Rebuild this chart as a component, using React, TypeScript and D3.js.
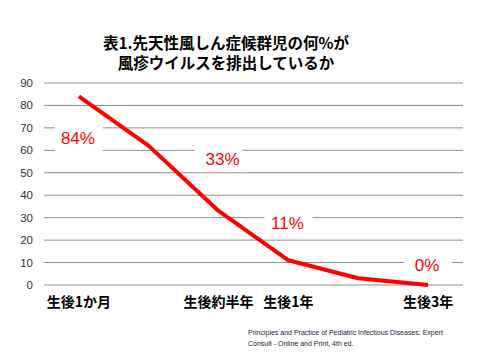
import React from "react";
import * as d3 from "d3";

const categories = ["生後1か月", "", "生後約半年", "生後1年", "", "生後3年"];
const values = [84, 62, 33, 11, 3, 0];
const yTicks = [0, 10, 20, 30, 40, 50, 60, 70, 80, 90];
const dataLabels = ["84%", "", "33%", "11%", "", "0%"];
const labelYValues = [65.5, 0, 56.1, 27.6, 0, 8.9];
const titleLines = ["表1.先天性風しん症候群児の何%が", "風疹ウイルスを排出しているか"];
const sourceLines = [
  "Principles and Practice of Pediatric Infectious Diseases: Expert",
  "Consult - Online and Print, 4th ed.",
];

export default function App() {
  const W = 480, H = 360;
  const left = 44, right = 463, top = 83, bottom = 285;
  const x = d3.scaleBand<number>().domain(d3.range(categories.length)).range([left, right]);
  const y = d3.scaleLinear().domain([0, 90]).range([bottom, top]);
  const cx = (i: number) => (x(i) as number) + x.bandwidth() / 2;
  const line = d3.line<number>().x((_, i) => cx(i)).y((d) => y(d));

  return (
    <svg width={W} height={H} style={{ position: "absolute", left: 0, top: 0, background: "#fff" }}>
      <rect width={W} height={H} fill="#fff" />
      {titleLines.map((t, i) => (
        <text key={i} x={226} y={49 + i * 20} textAnchor="middle" fontSize={15.5} fontWeight="bold"
          fontFamily="'Noto Sans CJK JP', sans-serif" fill="#000">{t}</text>
      ))}
      {yTicks.map((t) => (
        <g key={t}>
          <line x1={left} x2={right} y1={y(t)} y2={y(t)} stroke="#8c8c8c" strokeWidth={1} />
          <text x={33} y={y(t)} dy="0.35em" textAnchor="end" fontSize={11.5}
            fontFamily="'Liberation Sans', Arial, sans-serif" fill="#333">{t}</text>
        </g>
      ))}
      <path d={line(values) || ""} fill="none" stroke="#ff0000" strokeWidth={4} strokeLinejoin="round" />
      {dataLabels.map((l, i) =>
        l ? (
          <g key={i}>
            <rect x={cx(i) - 24} y={y(labelYValues[i]) - 13} width={48} height={26} fill="#fff" />
            <text x={cx(i) - 1 + (i === 2 ? 5 : 0)} y={y(labelYValues[i])} dy="0.36em" textAnchor="middle"
              fontSize={17} fontFamily="'Liberation Sans', Arial, sans-serif" fill="#ff0000">{l}</text>
          </g>
        ) : null
      )}
      {categories.map((c, i) =>
        c ? (
          <text key={i} x={cx(i)} y={307} textAnchor="middle" fontSize={14} fontWeight="bold"
            fontFamily="'Noto Sans CJK JP', sans-serif" fill="#000">{c}</text>
        ) : null
      )}
      {sourceLines.map((s, i) => (
        <text key={i} x={248} y={335 + i * 11} fontSize={7} fontFamily="'Liberation Sans', Arial, sans-serif"
          fill="#1a1a3a">{s}</text>
      ))}
    </svg>
  );
}
